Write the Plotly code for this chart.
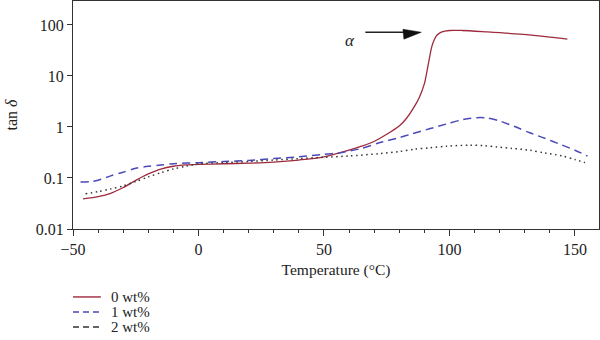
import numpy as np
import plotly.graph_objects as go

# Loss factor (tan δ) versus temperature for three filler loadings
LABELS = ["0 wt%", "1 wt%", "2 wt%"]

T_0 = [-46, -40, -35, -30, -25, -20, -15, -10, -5, 0, 10, 20, 30, 40, 50, 60, 65, 70,
       75, 80, 83, 86, 88, 90, 91, 92, 93, 94, 95, 97, 100, 105, 115, 128, 140, 147]
TAN_0 = [0.039, 0.043, 0.05, 0.065, 0.09, 0.12, 0.15, 0.17, 0.18, 0.185, 0.19, 0.195,
         0.205, 0.225, 0.26, 0.35, 0.42, 0.52, 0.72, 1.05, 1.5, 2.5, 3.8, 7, 12, 22, 38,
         52, 63, 73, 78, 78, 73, 66, 58, 53]

T_1 = [-47, -43, -40, -35, -30, -25, -20, -15, -10, 0, 10, 20, 30, 40, 50, 56, 65, 72,
       80, 85, 92, 99, 105, 111, 115, 120, 126, 132, 138, 144, 150, 155]
TAN_1 = [0.083, 0.085, 0.09, 0.11, 0.13, 0.155, 0.17, 0.18, 0.19, 0.2, 0.21, 0.22, 0.24,
         0.26, 0.29, 0.31, 0.38, 0.49, 0.62, 0.73, 0.92, 1.15, 1.38, 1.52, 1.5, 1.31,
         1.02, 0.77, 0.6, 0.46, 0.35, 0.27]

T_2 = [-45, -40, -35, -30, -25, -20, -15, -10, -5, 0, 10, 20, 30, 40, 50, 60, 72, 80,
       86, 92, 99, 108, 114, 119, 125, 132, 138, 145, 150, 154]
TAN_2 = [0.049, 0.054, 0.061, 0.07, 0.085, 0.105, 0.127, 0.15, 0.17, 0.19, 0.2, 0.21,
         0.225, 0.24, 0.255, 0.27, 0.3, 0.33, 0.366, 0.39, 0.42, 0.44, 0.43, 0.405, 0.38,
         0.35, 0.31, 0.27, 0.23, 0.2]

Y_TICKS = [0.01, 0.1, 1, 10, 100]
Y_TICK_TEXT = ["0.01", "0.1", "1", "10", "100"]
X_TICKS = [-50, 0, 50, 100, 150]

# α-relaxation marker: arrow tip and label location (data units)
ALPHA_TIP = (88.8, 72)
ALPHA_LABEL = (60.5, 50)

FONT = "Liberation Serif"
COLORS = ["#9e2a3c", "#4a4ab8", "#333333"]
DASHES = ["solid", "8px,5px", "1.5px,3.5px"]
LEGEND_DASHES = ["solid", "6px,4px", "6px,4px"]
WIDTHS = [1.3, 1.5, 1.5]

fig = go.Figure()
for t, v, name, c, d, w in zip([T_0, T_1, T_2], [TAN_0, TAN_1, TAN_2],
                               LABELS, COLORS, DASHES, WIDTHS):
    fig.add_trace(go.Scatter(
        x=t, y=v, name=name, mode="lines", showlegend=False,
        line=dict(color=c, dash=d, width=w, shape="spline", smoothing=0.8),
    ))

axis_common = dict(
    showline=True, linecolor="#333333", linewidth=1, mirror=True,
    ticks="outside", tickcolor="#333333", tickwidth=1,
    showgrid=False, zeroline=False,
    tickfont=dict(family=FONT, size=16, color="#222222"),
)

fig.update_xaxes(
    range=[-50, 159.6], tickvals=X_TICKS, ticklen=6,
    minor=dict(dtick=10, ticks="outside", ticklen=3, tickcolor="#333333"),
    title=dict(text="Temperature (°C)", font=dict(family=FONT, size=15.5, color="#222222"),
               standoff=6),
    **axis_common,
)
fig.update_yaxes(
    type="log", range=[-2, 2.47], tickvals=Y_TICKS, ticktext=Y_TICK_TEXT, ticklen=5,
    title=dict(text="tan <i>δ</i>", font=dict(family=FONT, size=16, color="#222222"),
               standoff=14),
    **axis_common,
)

# α arrow: shaft and filled head, pixel offsets from the tip (y measured upward)
tx, ty = ALPHA_TIP
fig.add_shape(type="line", xref="x", yref="y", xsizemode="pixel", ysizemode="pixel",
              xanchor=tx, yanchor=ty, x0=-56, y0=-6, x1=-16, y1=-1.7,
              line=dict(color="#222222", width=1.3))
fig.add_shape(type="path", xref="x", yref="y", xsizemode="pixel", ysizemode="pixel",
              xanchor=tx, yanchor=ty, path="M0,0 L-17.4,-6.9 L-18.4,3.0 Z",
              fillcolor="#111111", line=dict(color="#111111", width=0.5))
fig.add_annotation(x=ALPHA_LABEL[0], y=np.log10(ALPHA_LABEL[1]), text="<i>α</i>",
                   showarrow=False, font=dict(family=FONT, size=17, color="#222222"))

# Legend block below the plot: sample line plus label for each series
row_y = [-0.298, -0.364, -0.430]
for name, c, d, ry in zip(LABELS, COLORS, LEGEND_DASHES, row_y):
    fig.add_shape(type="line", xref="paper", yref="paper", x0=0.0, x1=0.053, y0=ry, y1=ry,
                  line=dict(color=c, dash=d, width=1.4))
    fig.add_annotation(xref="paper", yref="paper", x=0.068, y=ry, text=name,
                       xanchor="left", yanchor="middle", showarrow=False,
                       font=dict(family=FONT, size=15, color="#222222"))

fig.update_layout(
    width=600, height=340,
    margin=dict(l=73, r=1, t=1, b=111),
    paper_bgcolor="white", plot_bgcolor="white",
    showlegend=False,
)

fig.write_html("out.html")
